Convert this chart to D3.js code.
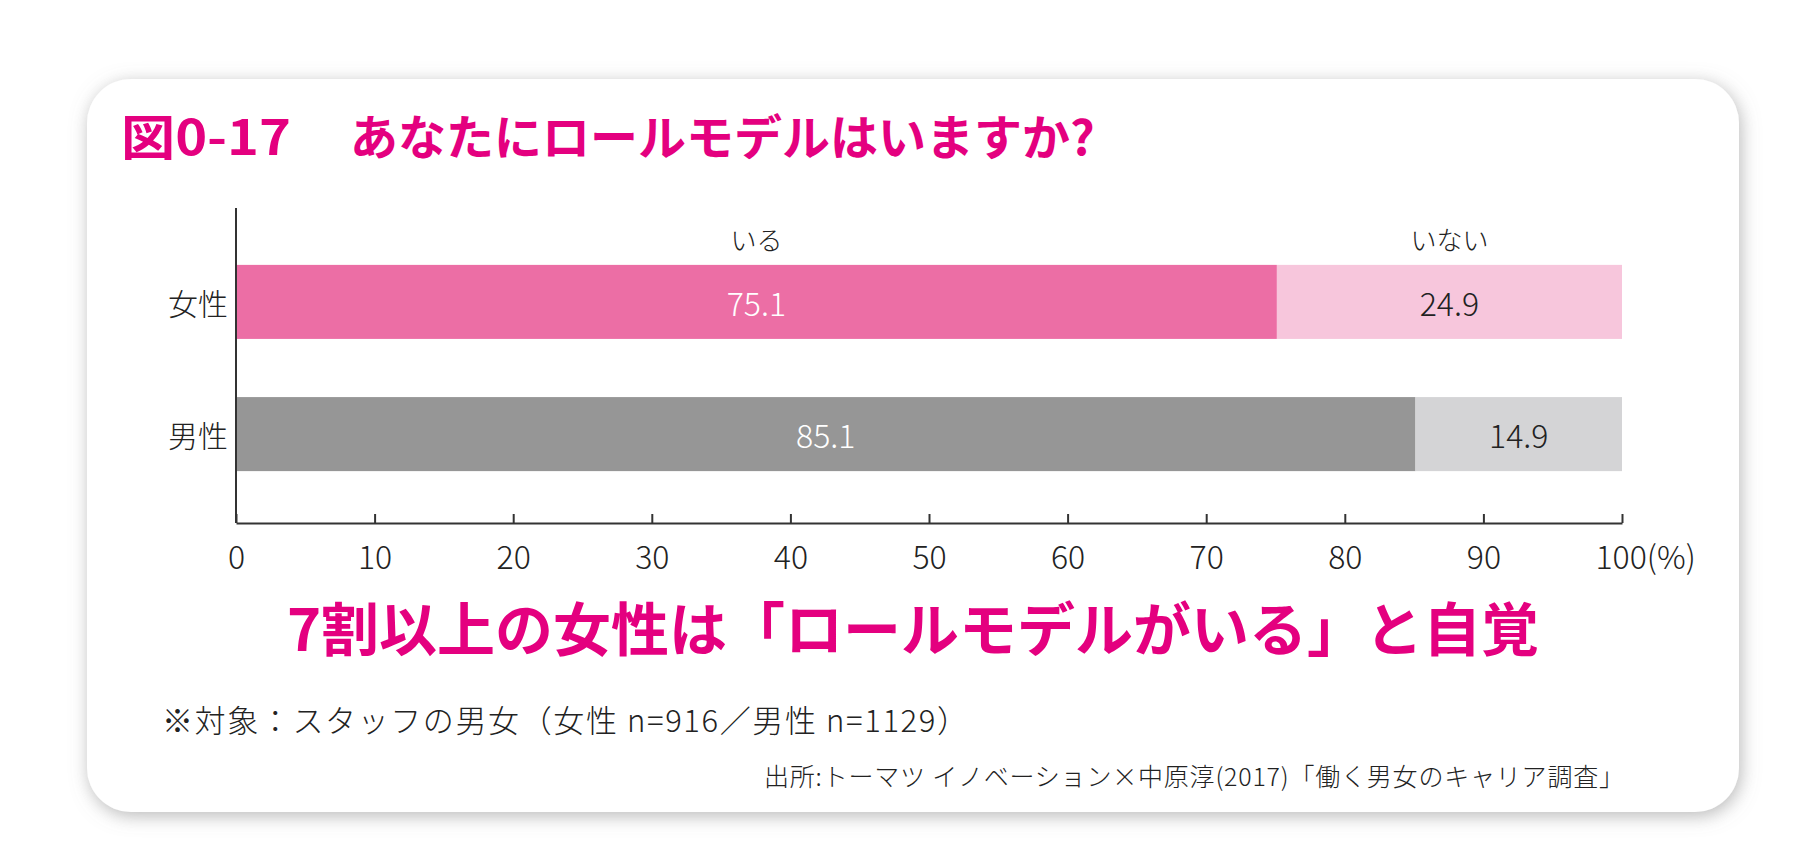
<!DOCTYPE html>
<html>
<head>
<meta charset="utf-8">
<script src="https://cdn.jsdelivr.net/npm/d3@7"></script>
<style>
  html, body { margin: 0; padding: 0; background: #fff; }
  svg { display: block; }
  text { font-family: "Noto Sans CJK JP", "Noto Sans", sans-serif; }
</style>
</head>
<body>
<svg id="chart" width="1818" height="856"></svg>
<script>
// data
var categories = ["女性", "男性"];
var seriesNames = ["いる", "いない"];
var hasModel = [75.1, 85.1];
var noModel = [24.9, 14.9];
var xTicks = [0, 10, 20, 30, 40, 50, 60, 70, 80, 90, 100];

var darkColors = ["#ec6ea5", "#969696"];
var lightColors = ["#f7c6dc", "#d4d4d6"];
var magenta = "#e4007f";

var svg = d3.select("#chart");

// card with soft shadow
var defs = svg.append("defs");
var f = defs.append("filter").attr("id", "shadow")
  .attr("x", "-5%").attr("y", "-10%").attr("width", "110%").attr("height", "120%");
f.append("feDropShadow")
  .attr("dx", 2).attr("dy", 4)
  .attr("stdDeviation", 9)
  .attr("flood-color", "#808080")
  .attr("flood-opacity", 0.55);

svg.append("rect")
  .attr("x", 87).attr("y", 79)
  .attr("width", 1652).attr("height", 733)
  .attr("rx", 44).attr("ry", 44)
  .attr("fill", "#fff")
  .attr("filter", "url(#shadow)");

// title
svg.append("text")
  .attr("x", 121).attr("y", 134)
  .attr("dominant-baseline", "central")
  .attr("font-size", 48).attr("font-weight", 700)
  .attr("fill", magenta)
  .attr("textLength", 170).attr("lengthAdjust", "spacingAndGlyphs")
  .text("図0-17");
svg.append("text")
  .attr("x", 350).attr("y", 134)
  .attr("dominant-baseline", "central")
  .attr("font-size", 48).attr("font-weight", 700)
  .attr("fill", magenta)
  .text("あなたにロールモデルはいますか?");

// scales
var x = d3.scaleLinear().domain([0, 100]).range([236, 1622]);
var y = d3.scaleBand().domain(categories)
  .range([212, 524]).paddingInner(0.44).paddingOuter(0.4);

var rows = categories.map(function(c, i) {
  return { cat: c, "いる": hasModel[i], "いない": noModel[i] };
});
var stacked = d3.stack().keys(seriesNames)(rows);

var g = svg.append("g");

stacked.forEach(function(layer, li) {
  g.selectAll(".seg" + li)
    .data(layer)
    .enter().append("rect")
      .attr("x", function(d) { return x(d[0]); })
      .attr("y", function(d) { return y(d.data.cat); })
      .attr("width", function(d) { return x(d[1]) - x(d[0]); })
      .attr("height", y.bandwidth())
      .attr("fill", function(d, i) { return li === 0 ? darkColors[i] : lightColors[i]; });

  g.selectAll(".val" + li)
    .data(layer)
    .enter().append("text")
      .attr("x", function(d) { return x((d[0] + d[1]) / 2); })
      .attr("y", function(d) { return y(d.data.cat) + y.bandwidth() / 2; })
      .attr("text-anchor", "middle")
      .attr("dominant-baseline", "central")
      .attr("font-size", 32).attr("font-weight", 300)
      .attr("fill", li === 0 ? "#fff" : "#222")
      .text(function(d) { return (d[1] - d[0]).toFixed(1); });

  // series name above the first bar
  var first = layer[0];
  g.append("text")
    .attr("x", x((first[0] + first[1]) / 2))
    .attr("y", 238)
    .attr("text-anchor", "middle")
    .attr("dominant-baseline", "central")
    .attr("font-size", 26).attr("font-weight", 300)
    .attr("fill", "#222")
    .text(seriesNames[li]);
});

// category labels
g.selectAll(".cat")
  .data(categories)
  .enter().append("text")
    .attr("x", 228)
    .attr("y", function(d) { return y(d) + y.bandwidth() / 2; })
    .attr("text-anchor", "end")
    .attr("dominant-baseline", "central")
    .attr("font-size", 30).attr("font-weight", 300)
    .attr("fill", "#222")
    .text(function(d) { return d; });

// y axis line
g.append("line")
  .attr("x1", 236).attr("x2", 236)
  .attr("y1", 208).attr("y2", 523)
  .attr("stroke", "#333").attr("stroke-width", 2);

// x axis
var xAxis = g.append("g")
  .attr("transform", "translate(0,523)")
  .call(d3.axisBottom(x).tickValues(xTicks).tickSizeInner(-9).tickSizeOuter(0)
    .tickFormat(function(d) { return d; }));
xAxis.select(".domain").attr("stroke", "#333").attr("stroke-width", 2);
xAxis.selectAll(".tick line").attr("stroke", "#333").attr("stroke-width", 2);
xAxis.selectAll(".tick text")
  .attr("y", 32).attr("dy", null)
  .attr("dominant-baseline", "central")
  .attr("font-family", "\"Noto Sans CJK JP\", sans-serif")
  .attr("font-size", 32).attr("font-weight", 300)
  .attr("fill", "#222");

// last label reads "100(%)", with "100" kept over its tick
xAxis.selectAll(".tick text").filter(function(d) { return d === 100; })
  .attr("text-anchor", "start")
  .attr("x", -27)
  .text("100(%)");

// headline
svg.append("text")
  .attr("x", 913).attr("y", 626)
  .attr("text-anchor", "middle")
  .attr("dominant-baseline", "central")
  .attr("font-size", 58).attr("font-weight", 700)
  .attr("fill", magenta)
  .text("7割以上の女性は「ロールモデルがいる」と自覚");

// notes
svg.append("text")
  .attr("x", 162).attr("y", 718)
  .attr("dominant-baseline", "central")
  .attr("font-size", 31).attr("font-weight", 300)
  .attr("fill", "#222")
  .attr("textLength", 806).attr("lengthAdjust", "spacing")
  .text("※対象：スタッフの男女（女性 n=916／男性 n=1129）");

svg.append("text")
  .attr("x", 764).attr("y", 775)
  .attr("dominant-baseline", "central")
  .attr("font-size", 25).attr("font-weight", 300)
  .attr("fill", "#222")
  .attr("textLength", 860).attr("lengthAdjust", "spacing")
  .text("出所:トーマツ イノベーション×中原淳(2017)「働く男女のキャリア調査」");
</script>
</body>
</html>
